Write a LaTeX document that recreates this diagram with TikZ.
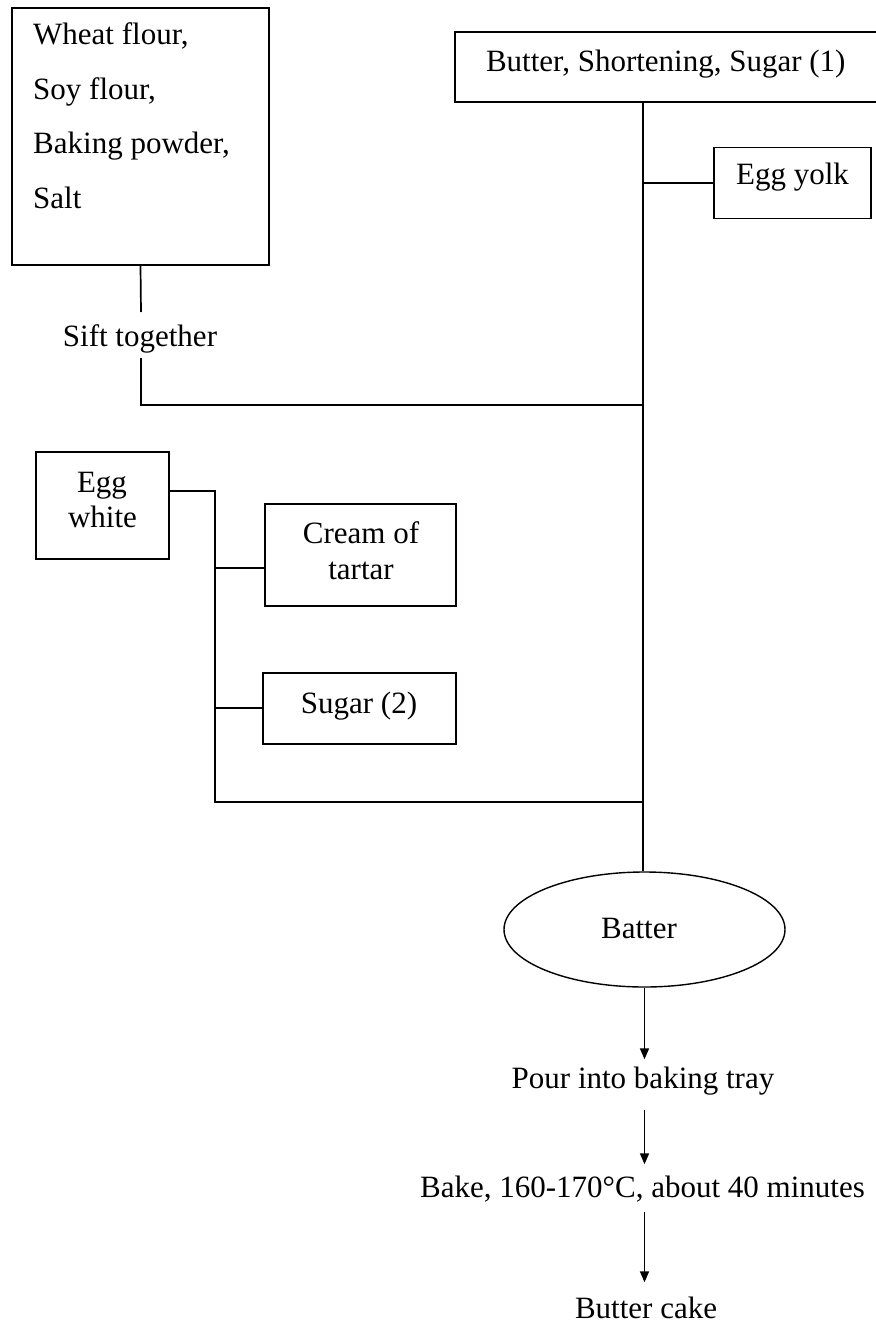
\documentclass[tikz,border=0pt]{standalone}
\usepackage{fontspec}
\setmainfont{Liberation Serif}
\usetikzlibrary{arrows.meta,shapes.geometric}
\tikzset{
  box/.style={draw, line width=1.7pt, rectangle, inner sep=0pt},
  oval/.style={draw, line width=1.4pt, ellipse, inner sep=0pt},
  txt/.style={inner sep=0pt, font=\fontsize{31}{35}\selectfont},
  conn/.style={line width=1.7pt},
  arr/.style={line width=1.6pt, -{Triangle[length=11pt,width=9pt]}}
}
\begin{document}
\begin{tikzpicture}[x=1pt,y=-1pt]
\useasboundingbox (0,0) rectangle (875,1324);

% boxes
\node[box, minimum width=257pt, minimum height=257pt] (flour) at (140.5,136.5) {};
\node[box, minimum width=422pt, minimum height=70pt] (bss) at (666,67) {};
\node[box, minimum width=157pt, minimum height=71pt] (yolk) at (792.5,183) {};
\node[box, minimum width=133pt, minimum height=107pt] (eggw) at (102.5,505.5) {};
\node[box, minimum width=191pt, minimum height=102pt] (cream) at (360.5,555) {};
\node[box, minimum width=193pt, minimum height=71pt] (sugar) at (359.5,708.5) {};
\node[oval, minimum width=281pt, minimum height=115pt] (batter) at (644.5,929.5) {};

% texts
\node[txt, anchor=base west] (t1) at (33,45) {Wheat flour,};
\node[txt, anchor=base west] (t2) at (33,100) {Soy flour,};
\node[txt, anchor=base west] (t3) at (33,154) {Baking powder,};
\node[txt, anchor=base west] (t4) at (33,209) {Salt};
\node[txt, anchor=base] (tbss) at (665.8,72) {Butter, Shortening, Sugar (1)};
\node[txt, anchor=base] (tyolk) at (792.5,185) {Egg yolk};
\node[txt, anchor=base] (sift) at (140,346) {Sift together};
\node[txt, anchor=base] (tew1) at (102,492) {Egg};
\node[txt, anchor=base] (tew2) at (102.5,527) {white};
\node[txt, anchor=base] (tcr1) at (361,543) {Cream of};
\node[txt, anchor=base] (tcr2) at (361,579) {tartar};
\node[txt, anchor=base] (tsug) at (359,713) {Sugar (2)};
\node[txt, anchor=base] (tbat) at (639,938) {Batter};
\node[txt, anchor=base] (pour) at (643,1088) {Pour into baking tray};
\node[txt, anchor=base] (bake) at (642.5,1197) {Bake, 160-170°C, about 40 minutes};
\node[txt, anchor=base] (cake) at (646,1318) {Butter cake};

% junction coordinates
\coordinate (m0) at (643,102);
\coordinate (j0) at (643,183);
\coordinate (j1) at (643,405);
\coordinate (j2) at (643,802);
\coordinate (s1) at (141,312);
\coordinate (s2) at (141,358);
\coordinate (k0) at (215,491);
\coordinate (k2) at (215,568);
\coordinate (k3) at (215,708);
\coordinate (k1) at (215,802);

% connectors
\draw[conn] (m0) -- (m0 |- batter.north);
\draw[conn] (j0) -- (yolk.west);
\draw[conn] (flour.south) -- (s1);
\draw[conn] (s2) |- (j1);
\draw[conn] ([yshift=14.5pt]eggw.east) -- (k0) -- (k1) -- (j2);
\draw[conn] (k2) -- (k2 -| cream.west);
\draw[conn] (k3) -- (k3 -| sugar.west);

% arrows
\draw[arr, shorten >=7pt] (batter.south) -- (batter.south |- pour.north);
\draw[arr, shorten <=15pt, shorten >=11pt] (pour.south -| batter.south) -- (bake.north -| batter.south);
\draw[arr, shorten <=10pt, shorten >=14pt] (bake.south -| batter.south) -- (cake.north -| batter.south);
\end{tikzpicture}
\end{document}
